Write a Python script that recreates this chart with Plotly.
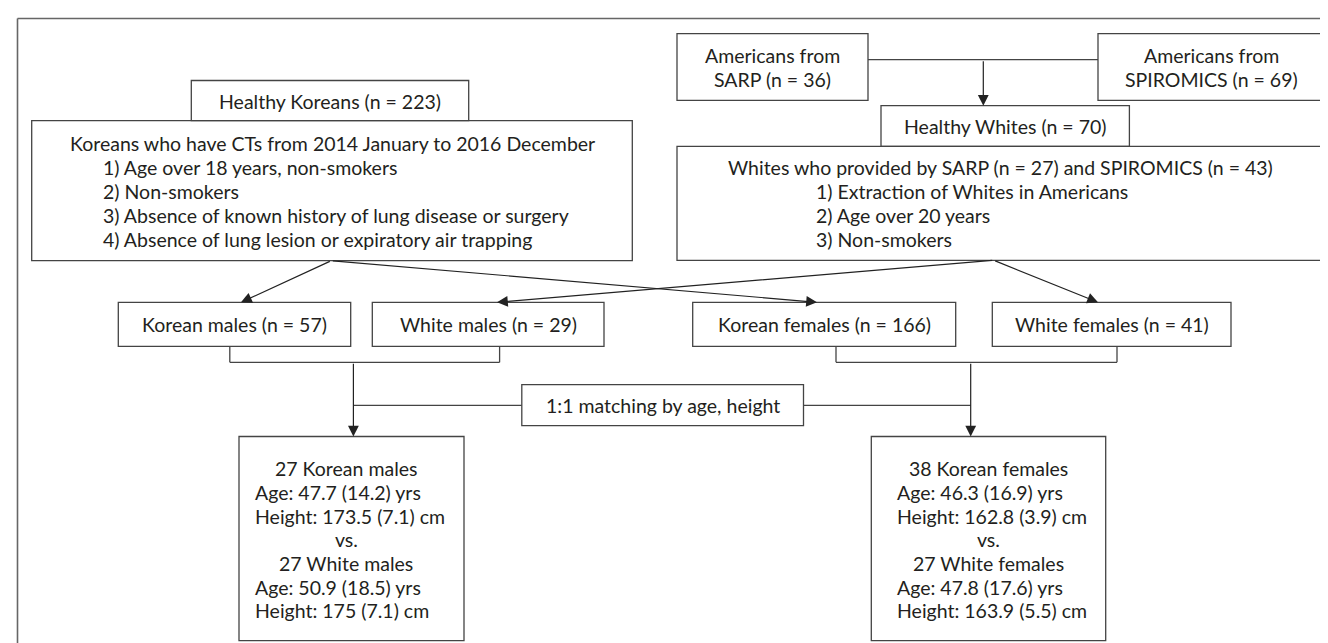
import plotly.graph_objects as go

W, H = 1328, 643

# ---------------- data (texts of the flowchart) ----------------
source_lines = [["Americans from", "SARP (n = 36)"],
                ["Americans from", "SPIROMICS (n = 69)"]]
cohort_labels = ["Healthy Koreans (n = 223)", "Healthy Whites (n = 70)"]
korean_title = "Koreans who have CTs from 2014 January to 2016 December"
korean_criteria = ["1) Age over 18 years, non-smokers",
                   "2) Non-smokers",
                   "3) Absence of known history of lung disease or surgery",
                   "4) Absence of lung lesion or expiratory air trapping"]
white_title = "Whites who provided by SARP (n = 27) and SPIROMICS (n = 43)"
white_criteria = ["1) Extraction of Whites in Americans",
                  "2) Age over 20 years",
                  "3) Non-smokers"]
group_labels = ["Korean males (n = 57)", "White males (n = 29)",
                "Korean females (n = 166)", "White females (n = 41)"]
matching_label = "1:1 matching by age, height"
male_result = ["27 Korean males", "Age: 47.7 (14.2) yrs", "Height: 173.5 (7.1) cm", "vs.",
               "27 White males", "Age: 50.9 (18.5) yrs", "Height: 175 (7.1) cm"]
female_result = ["38 Korean females", "Age: 46.3 (16.9) yrs", "Height: 162.8 (3.9) cm", "vs.",
                 "27 White females", "Age: 47.8 (17.6) yrs", "Height: 163.9 (5.5) cm"]
result_align = ["c", "l", "l", "c", "c", "l", "l"]

# ---------------- layout geometry (pixels) ----------------
FONT = "Lato, Liberation Sans, Arial, sans-serif"
FS = 19.5
TXT = "#231f20"
LINE = "#444444"
LW = 1.3

boxes = {
    "sarp": (669, 25.7, 860, 92.3),
    "spiro": (1090, 25.7, 1316, 92.3),
    "hk": (183.3, 72.5, 460.7, 112.7),
    "kcrit": (23.7, 112.7, 624.3, 252.7),
    "hw": (873, 97.7, 1121.4, 138.3),
    "wcrit": (669, 138.3, 1315, 252.3),
    "km": (110.3, 294.3, 342.7, 338.3),
    "wm": (364.3, 294.3, 596, 338.3),
    "kf": (684.7, 294.3, 947.7, 338.3),
    "wf": (984.3, 294.3, 1223, 338.3),
    "match": (513.8, 376.7, 795.5, 417.7),
    "mres": (231, 428.5, 456, 632.7),
    "fres": (863.3, 428.5, 1097.7, 632.7),
}

shapes = []
annotations = []


def line(x0, y0, x1, y1, color=LINE, width=LW):
    shapes.append(dict(type="line", xref="x", yref="y", x0=x0, y0=y0, x1=x1, y1=y1,
                       line=dict(color=color, width=width)))


def rect(b):
    x0, y0, x1, y1 = b
    shapes.append(dict(type="rect", xref="x", yref="y", x0=x0, y0=y0, x1=x1, y1=y1,
                       line=dict(color=LINE, width=LW), fillcolor="rgba(0,0,0,0)"))


def text(x, y, s, anchor="center"):
    annotations.append(dict(x=x, y=y, xref="x", yref="y", text=s, showarrow=False,
                            xanchor=anchor, yanchor="middle",
                            font=dict(family=FONT, size=FS, color=TXT)))


def arrow(x0, y0, x1, y1):
    annotations.append(dict(x=x1, y=y1, ax=x0, ay=y0, xref="x", yref="y", axref="x", ayref="y",
                            text="", showarrow=True, arrowhead=2, arrowsize=1.8,
                            arrowwidth=1.2, arrowcolor="#222222", standoff=0, startstandoff=0))


# outer frame (only top and left edges visible)
line(9.5, 10.5, 1330, 10.5, color="#666666", width=1.6)
line(9.5, 10.5, 9.5, 650, color="#666666", width=1.6)

for b in boxes.values():
    rect(b)

# source boxes texts
for key, lines_ in zip(["sarp", "spiro"], source_lines):
    x0, y0, x1, y1 = boxes[key]
    cx = (x0 + x1) / 2
    text(cx, 47, lines_[0])
    text(cx, 71, lines_[1])

# sources -> Healthy Whites
line(860, 51.7, 1090, 51.7)
arrow(975.3, 51.7, 975.3, 97.7)

# cohorts
text(322, 93, cohort_labels[0])
text(997, 118.3, cohort_labels[1])

# Korean criteria
text(324, 135.7, korean_title)
for i, s in enumerate(korean_criteria):
    text(92.7, 159.5 + 23.9 * i, s, anchor="left")

# White criteria
text(992, 159.3, white_title)
for i, s in enumerate(white_criteria):
    text(806, 183.5 + 23.9 * i, s, anchor="left")

# arrows to groups
arrow(323.3, 252.7, 233, 294.3)
arrow(323.3, 252.7, 809, 294.3)
arrow(985.7, 252.3, 489, 294.3)
arrow(985.7, 252.3, 1090, 294.3)

# group labels
for key, s in zip(["km", "wm", "kf", "wf"], group_labels):
    x0, y0, x1, y1 = boxes[key]
    text((x0 + x1) / 2, 316.3, s)

# brackets
by = 354.3
for xl, xr, xc in [(221.8, 491.6, 345.4), (828, 1109, 962.7)]:
    line(xl, 338.3, xl, by)
    line(xr, 338.3, xr, by)
    line(xl, by, xr, by)
    arrow(xc, by, xc, 428.5)

# matching
line(345.4, 397.3, 513.8, 397.3)
line(795.5, 397.3, 962.7, 397.3)
text(654.6, 397.2, matching_label)

# results
for lines_, cx, lx in [(male_result, 338, 245), (female_result, 980, 887.3)]:
    for i, (s, a) in enumerate(zip(lines_, result_align)):
        y = 460.8 + 23.65 * i
        if a == "c":
            text(cx, y, s)
        else:
            text(lx, y, s, anchor="left")

fig = go.Figure()
fig.update_layout(
    width=W, height=H,
    margin=dict(l=0, r=0, t=0, b=0),
    paper_bgcolor="white", plot_bgcolor="white",
    xaxis=dict(range=[0, W], visible=False, fixedrange=True),
    yaxis=dict(range=[H, 0], visible=False, fixedrange=True),
    shapes=shapes, annotations=annotations, showlegend=False,
)
fig.write_html("out.html")
